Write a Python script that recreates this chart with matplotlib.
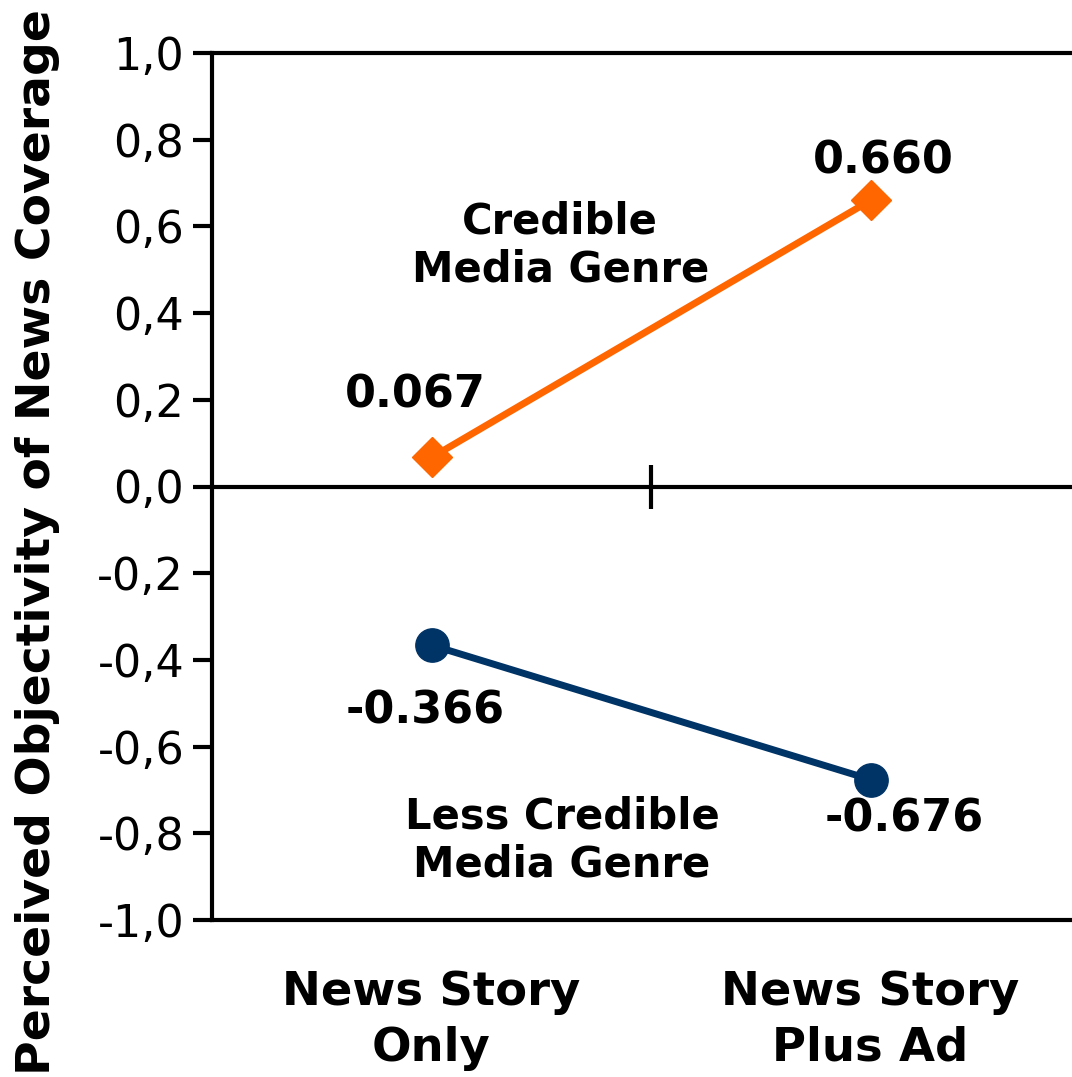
import matplotlib.pyplot as plt
from matplotlib.transforms import blended_transform_factory

# conditions on the x axis
conditions = ["News Story\nOnly", "News Story\nPlus Ad"]
# mean perceived objectivity per genre
credible = [0.067, 0.660]
less_credible = [-0.366, -0.676]
yticks = [-1.0, -0.8, -0.6, -0.4, -0.2, 0.0, 0.2, 0.4, 0.6, 0.8, 1.0]

ORANGE = "#FF6600"
NAVY = "#003366"

fig = plt.figure(figsize=(10.72, 10.77), dpi=100)
ax = fig.add_axes([212 / 1072, 157 / 1077, 878 / 1072, 867 / 1077])

xs = list(range(len(conditions)))
ax.plot(xs, credible, color=ORANGE, lw=5, marker="D", ms=20, zorder=3, clip_on=False)
ax.plot(xs, less_credible, color=NAVY, lw=5, marker="o", ms=24, zorder=3, clip_on=False)

ax.set_xlim(-0.5, 1.5)
ax.set_ylim(-1.0, 1.0)

# axes frame: left spine, x axis on y=0, lines at the top and bottom
for s in ("right", "top"):
    ax.spines[s].set_visible(False)
ax.spines["left"].set_linewidth(3)
ax.spines["bottom"].set_position(("data", 0))
ax.spines["bottom"].set_linewidth(3)
ax.axhline(1.0, color="black", lw=3, clip_on=False)
ax.axhline(-1.0, color="black", lw=3, clip_on=False)

ax.set_yticks(yticks)
ax.set_yticklabels([f"{v:.1f}".replace(".", ",") for v in yticks])
ax.tick_params(axis="y", length=14, width=3, labelsize=32, pad=6)
ax.set_xticks([0.5])
ax.set_xticklabels([""])
ax.tick_params(axis="x", direction="inout", length=32, width=3)

tr = blended_transform_factory(ax.transData, ax.transAxes)
for x, lab in zip(xs, conditions):
    ax.text(x, -0.058, lab, transform=tr, ha="center", va="top", fontsize=33.5,
            fontweight="bold", linespacing=1.3)

ax.set_ylabel("Perceived Objectivity of News Coverage", fontsize=34,
              fontweight="bold")
ax.yaxis.set_label_coords(-0.173, 0.436)

lbl = dict(fontsize=32, fontweight="bold", ha="center", va="center")
ax.text(-0.038, 0.212, f"{credible[0]:.3f}", **lbl)
ax.text(1.03, 0.750, f"{credible[1]:.3f}", **lbl)
ax.text(-0.015, -0.519, f"{less_credible[0]:.3f}", **lbl)
ax.text(1.077, -0.768, f"{less_credible[1]:.3f}", **lbl)

ax.text(0.293, 0.556, "Credible\nMedia Genre", fontsize=30, fontweight="bold",
        ha="center", va="center", linespacing=1.2)
ax.text(0.297, -0.817, "Less Credible\nMedia Genre", fontsize=30, fontweight="bold",
        ha="center", va="center", linespacing=1.2)

fig.savefig("out.png", dpi=100)
